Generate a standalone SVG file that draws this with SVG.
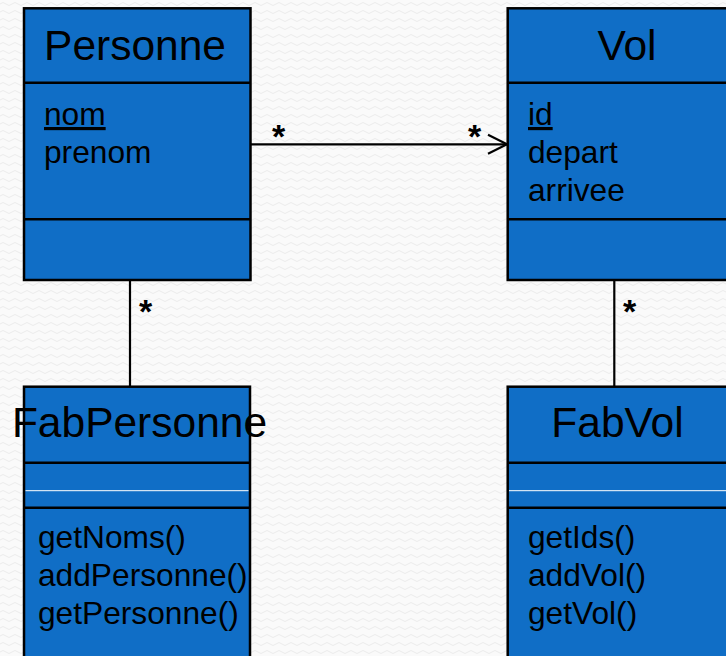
<svg xmlns="http://www.w3.org/2000/svg" width="726" height="656" viewBox="0 0 726 656">
<defs>
<pattern id="bg" width="12" height="8" patternUnits="userSpaceOnUse">
<rect width="12" height="8" fill="#fafafa"/>
<path d="M0 4 Q3 1 6 4 T12 4" fill="none" stroke="#ececec" stroke-width="1"/>
</pattern>
<marker id="open" markerWidth="24" markerHeight="24" refX="20" refY="11" orient="auto" markerUnits="userSpaceOnUse">
<path d="M1 1.5 L20 11 L1 20.5" fill="none" stroke="#000" stroke-width="2.2"/>
</marker>
</defs>
<style>
.box{fill:#106ec6;stroke:#000;stroke-width:2.5}
.div{stroke:#000;stroke-width:2.5}
.wdiv{stroke:#fff;stroke-width:1}
.title{font-family:"Liberation Sans",Arial,sans-serif;font-size:42.5px;fill:#000;text-anchor:middle}
.item{font-family:"Liberation Sans",Arial,sans-serif;font-size:31.7px;fill:#000}
.u{text-decoration:underline}
.conn{stroke:#000;stroke-width:2.2;fill:none}
.mult{font-family:"Liberation Sans",Arial,sans-serif;font-size:34px;font-weight:bold;fill:#000}
</style>
<rect width="726" height="656" fill="url(#bg)"/>
<g id="connectors">
<line class="conn" x1="251" y1="144.3" x2="507" y2="144.3" marker-end="url(#open)"/>
<line class="conn" x1="130" y1="280" x2="130" y2="387"/>
<line class="conn" x1="614.3" y1="280" x2="614.3" y2="387"/>
<text class="mult" x="272" y="148">*</text>
<text class="mult" x="468" y="148">*</text>
<text class="mult" x="139" y="323">*</text>
<text class="mult" x="623" y="323">*</text>
</g>
<g id="Personne">
<rect class="box" x="24" y="8.3" width="226.5" height="271.7"/>
<line class="div" x1="24" y1="82.7" x2="250.5" y2="82.7"/>
<line class="div" x1="24" y1="219.3" x2="250.5" y2="219.3"/>
<text class="title" x="135" y="60">Personne</text>
<text class="item u" x="44" y="125">nom</text>
<text class="item" x="44" y="163">prenom</text>
</g>
<g id="Vol">
<rect class="box" x="507.7" y="8.3" width="240" height="271.7"/>
<line class="div" x1="507.7" y1="82.7" x2="747" y2="82.7"/>
<line class="div" x1="507.7" y1="219.3" x2="747" y2="219.3"/>
<text class="title" x="627" y="60">Vol</text>
<text class="item u" x="528" y="125">id</text>
<text class="item" x="528" y="163">depart</text>
<text class="item" x="528" y="201">arrivee</text>
</g>
<g id="FabPersonne">
<rect class="box" x="24" y="386.7" width="226" height="280"/>
<line class="div" x1="24" y1="462.7" x2="250" y2="462.7"/>
<line class="wdiv" x1="25.5" y1="490.7" x2="248.5" y2="490.7"/>
<line class="div" x1="24" y1="507.7" x2="250" y2="507.7"/>
<text class="title" x="139.5" y="437">FabPersonne</text>
<text class="item" x="38" y="548">getNoms()</text>
<text class="item" x="38" y="586">addPersonne()</text>
<text class="item" x="38" y="624">getPersonne()</text>
</g>
<g id="FabVol">
<rect class="box" x="507.7" y="386.7" width="240" height="280"/>
<line class="div" x1="507.7" y1="462.7" x2="747" y2="462.7"/>
<line class="wdiv" x1="509" y1="490.7" x2="747" y2="490.7"/>
<line class="div" x1="507.7" y1="507.7" x2="747" y2="507.7"/>
<text class="title" x="617.5" y="437">FabVol</text>
<text class="item" x="528" y="548">getIds()</text>
<text class="item" x="528" y="586">addVol()</text>
<text class="item" x="528" y="624">getVol()</text>
</g>
</svg>
